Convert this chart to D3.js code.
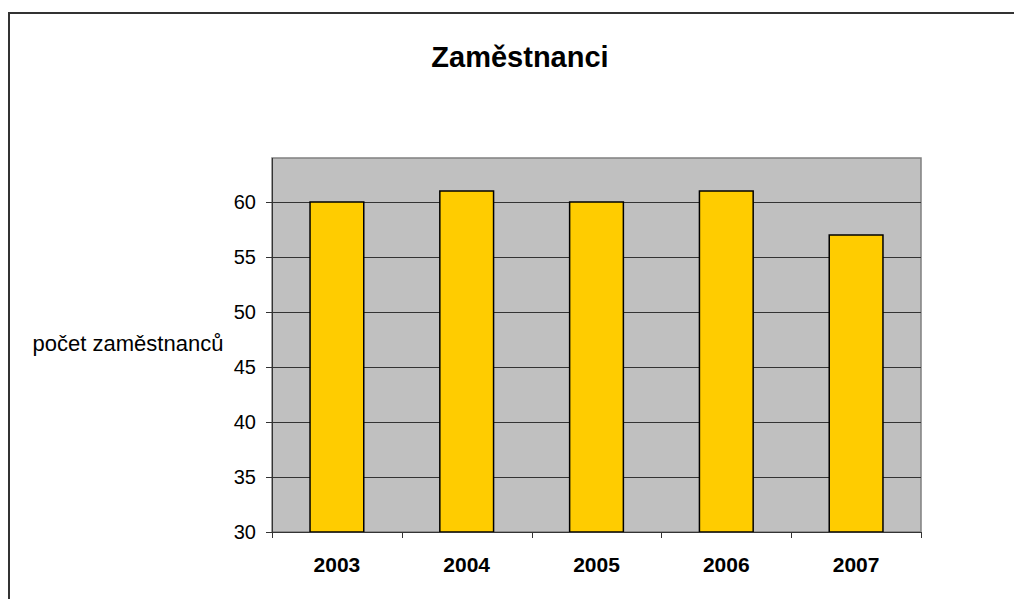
<!DOCTYPE html>
<html lang="cs">
<head>
    <meta charset="UTF-8">
    <title>Zaměstnanci</title>
    <script src="https://cdn.jsdelivr.net/npm/d3@7"></script>
    <style>
        body { margin: 0; background: #fff; }
        svg { display: block; font-family: Arial, "Liberation Sans", sans-serif; }
    </style>
</head>
<body>
    <svg width="1014" height="599" id="mainsvg"></svg>
    <script>
        const years = ['2003', '2004', '2005', '2006', '2007']
        const counts = [60, 61, 60, 61, 57]
        const yTicks = [30, 35, 40, 45, 50, 55, 60]

        const svg = d3.select('#mainsvg')
        const width = +svg.attr('width')
        const height = +svg.attr('height')
        const margin = {top: 158, left: 272, right: 93, bottom: 67}
        const innerWidth = width - margin.left - margin.right
        const innerHeight = height - margin.top - margin.bottom

        // outer chart frame: only left and top edges are visible in the crop
        svg.append('path')
            .attr('d', `M9,${height}V13H${width}`)
            .attr('fill', 'none').attr('stroke', '#333').attr('stroke-width', 2)

        svg.append('text')
            .attr('x', 520).attr('y', 67)
            .attr('text-anchor', 'middle')
            .attr('font-size', 29).attr('font-weight', 'bold')
            .text('Zaměstnanci')

        const g = svg.append('g')
            .attr('transform', `translate(${margin.left},${margin.top})`)

        const xScale = d3.scaleBand().domain(years).range([0, innerWidth])
            .paddingInner(0.586).paddingOuter(0.293)
        const xBand = d3.scaleBand().domain(years).range([0, innerWidth])
        const yScale = d3.scaleLinear().domain([30, 64]).range([innerHeight, 0])

        g.append('rect')
            .attr('width', innerWidth).attr('height', innerHeight)
            .attr('fill', '#c0c0c0').attr('stroke', '#808080').attr('stroke-width', 1.5)

        g.selectAll('.grid').data(yTicks.filter(d => d > 30)).join('line')
            .attr('class', 'grid')
            .attr('x1', 0).attr('x2', innerWidth)
            .attr('y1', d => Math.round(yScale(d)) + 0.5)
            .attr('y2', d => Math.round(yScale(d)) + 0.5)
            .attr('stroke', '#333').attr('stroke-width', 1)

        g.selectAll('.bar').data(counts).join('rect')
            .attr('class', 'bar')
            .attr('x', (d, i) => xScale(years[i]))
            .attr('y', d => yScale(d))
            .attr('width', xScale.bandwidth())
            .attr('height', d => innerHeight - yScale(d))
            .attr('fill', '#ffcc00').attr('stroke', '#000').attr('stroke-width', 1.5)

        const yAxis = d3.axisLeft(yScale).tickValues(yTicks).tickSize(6).tickPadding(10)
        const yAxisGroup = g.append('g').call(yAxis)
            .attr('font-size', 20).attr('font-family', 'Arial, "Liberation Sans", sans-serif')
        yAxisGroup.select('.domain').attr('stroke', '#333').attr('d', `M0.5,0V${innerHeight}`)
        yAxisGroup.selectAll('.tick line').attr('stroke', '#333')
        yAxisGroup.selectAll('.tick text').attr('fill', '#000')

        // x axis: ticks at category boundaries
        const xAxisGroup = g.append('g').attr('transform', `translate(0,${innerHeight})`)
        xAxisGroup.append('line')
            .attr('x1', 0).attr('x2', innerWidth).attr('y1', 0.5).attr('y2', 0.5)
            .attr('stroke', '#333')
        const bounds = years.map(y => xBand(y)).concat([innerWidth])
        xAxisGroup.selectAll('.xtick').data(bounds).join('line')
            .attr('class', 'xtick')
            .attr('x1', d => Math.round(d) + 0.5).attr('x2', d => Math.round(d) + 0.5)
            .attr('y1', 0).attr('y2', 6)
            .attr('stroke', '#333')
        xAxisGroup.selectAll('.xlabel').data(years).join('text')
            .attr('class', 'xlabel')
            .attr('x', d => xBand(d) + xBand.bandwidth() / 2)
            .attr('y', 40)
            .attr('text-anchor', 'middle')
            .attr('font-size', 21).attr('font-weight', 'bold')
            .text(d => d)

        svg.append('text')
            .attr('x', 128).attr('y', 351)
            .attr('text-anchor', 'middle')
            .attr('font-size', 22)
            .text('počet zaměstnanců')
    </script>
</body>
</html>
